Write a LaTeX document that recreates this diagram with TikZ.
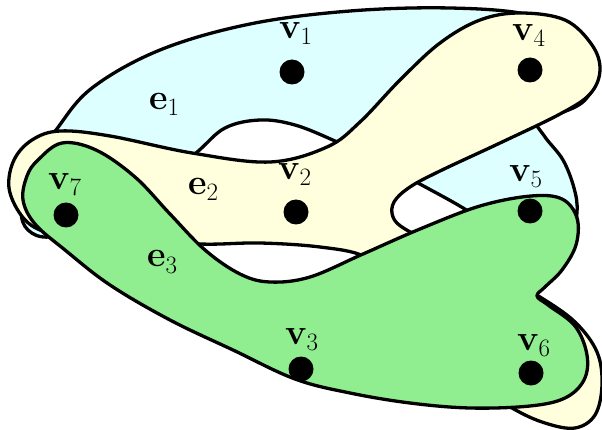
\documentclass[tikz,border=0pt]{standalone}
\definecolor{eonefill}{HTML}{DDFFFF}
\definecolor{etwofill}{HTML}{FFFFDD}
\definecolor{ethreefill}{HTML}{90EE90}
\newcommand{\vlab}[2]{\textbf{#1}\raisebox{-6pt}{\fontsize{25}{30}\selectfont #2}}
\tikzset{
  hyper/.style={draw=black, line width=3.3pt, line join=round},
  vert/.style={circle, fill=black, minimum size=25pt, inner sep=0pt},
  lab/.style={anchor=base west, inner sep=0pt, font=\fontsize{36}{43}\selectfont},
}
\begin{document}
\begin{tikzpicture}[x=1pt, y=-1pt]
\useasboundingbox (0,0) rectangle (602,430);
% e1
\draw[hyper, fill=eonefill] plot[smooth cycle, tension=0.6] coordinates {
 (56,130) (92,88) (160,50) (250,24) (350,11) (450,8) (530,15) (580,38) (598,70) (585,100)
 (558,114) (536,120) (545,137) (563,160) (574,188) (577,212) (570,240) (545,252) (505,238)
 (468,211) (418,183) (375,160) (335,141) (295,125) (260,120) (225,128) (196,153) (150,190)
 (95,225) (50,237) (28,230) (21,210) (27,172)};
% e2
\draw[hyper, fill=etwofill] plot[smooth cycle, tension=0.6] coordinates {
 (14,160) (32,140) (60,131) (110,136) (192,153) (270,162) (327,147) (360,122) (400,80) (440,43)
 (480,20) (520,13) (565,20) (592,45) (600,70) (590,94) (560,114) (500,143) (440,171) (410,187)
 (394,202) (393,217) (405,229) (440,246) (500,275) (540,297) (575,322) (597,352) (602,385)
 (595,415) (575,428) (545,423) (512,408) (460,375) (410,320) (380,278) (363,256) (320,247)
 (260,243) (200,244) (130,238) (70,235) (40,230) (21,215) (9,188)};
% e3
\draw[hyper, fill=ethreefill] plot[smooth cycle, tension=0.6] coordinates {
 (38,160) (62,143) (96,150) (135,177) (170,214) (205,250) (240,274) (270,282) (310,277)
 (363,254) (420,229) (480,206) (531,196) (562,199) (577,218) (576,245) (562,270) (545,287)
 (537,296) (548,305) (575,326) (587,355) (584,380) (565,398) (530,406) (470,408) (410,403)
 (350,393) (295,379) (233,350) (170,320) (110,285) (65,250) (35,224) (23,200) (27,176)};
% vertices
\node[vert] (v1) at (292,72) {};
\node[vert] (v4) at (530,70) {};
\node[vert] (v7) at (66,215) {};
\node[vert] (v2) at (296,212) {};
\node[vert] (v5) at (530,211) {};
\node[vert] (v3) at (301,369) {};
\node[vert] (v6) at (531,373) {};
% labels
\node[lab] (l1) at (279,39) {\vlab{v}{1}};
\node[lab] (l4) at (512,41) {\vlab{v}{4}};
\node[lab] (l7) at (48,190) {\vlab{v}{7}};
\node[lab] (l2) at (278,180) {\vlab{v}{2}};
\node[lab] (l5) at (509,182) {\vlab{v}{5}};
\node[lab] (l3) at (285,344) {\vlab{v}{3}};
\node[lab] (l6) at (517,350) {\vlab{v}{6}};
\node[lab] (le1) at (149,110) {\vlab{e}{1}};
\node[lab] (le2) at (188,195) {\vlab{e}{2}};
\node[lab] (le3) at (147,267) {\vlab{e}{3}};
\end{tikzpicture}
\end{document}
